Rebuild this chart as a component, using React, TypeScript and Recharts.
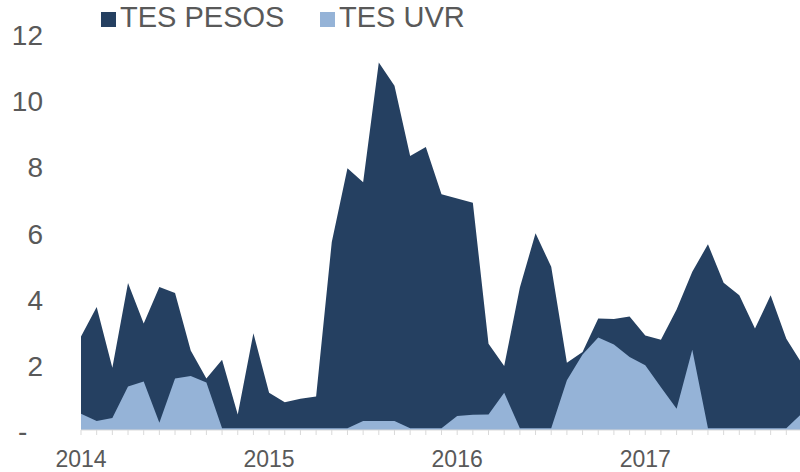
import { Area, AreaChart, Legend, XAxis, YAxis } from "recharts";

const months = [
  "2014-01", "2014-02", "2014-03", "2014-04", "2014-05", "2014-06", "2014-07", "2014-08", "2014-09", "2014-10", "2014-11", "2014-12",
  "2015-01", "2015-02", "2015-03", "2015-04", "2015-05", "2015-06", "2015-07", "2015-08", "2015-09", "2015-10", "2015-11", "2015-12",
  "2016-01", "2016-02", "2016-03", "2016-04", "2016-05", "2016-06", "2016-07", "2016-08", "2016-09", "2016-10", "2016-11", "2016-12",
  "2017-01", "2017-02", "2017-03", "2017-04", "2017-05", "2017-06", "2017-07", "2017-08", "2017-09", "2017-10", "2017-11",
];

const tesPesos = [
  2.82, 3.71, 1.88, 4.43, 3.21, 4.31, 4.13, 2.4, 1.55, 2.12, 0.47, 2.92,
  1.12, 0.84, 0.94, 1.01, 5.67, 7.89, 7.47, 11.08, 10.38, 8.26, 8.53, 7.11,
  6.98, 6.85, 2.6, 1.93, 4.3, 5.93, 4.92, 2.03, 2.35, 3.36, 3.35, 3.42,
  2.85, 2.72, 3.63, 4.77, 5.6, 4.44, 4.06, 3.06, 4.06, 2.75, 2.0,
];

const tesUvr = [
  0.49, 0.27, 0.36, 1.31, 1.46, 0.22, 1.55, 1.63, 1.43, 0.05, 0.05, 0.05,
  0.05, 0.05, 0.05, 0.05, 0.05, 0.05, 0.27, 0.27, 0.27, 0.05, 0.05, 0.05,
  0.42, 0.46, 0.47, 1.12, 0.05, 0.05, 0.05, 1.5, 2.28, 2.79, 2.58, 2.2,
  1.95, 1.29, 0.64, 2.42, 0.05, 0.05, 0.05, 0.05, 0.05, 0.05, 0.5,
];

const yTicks = [0, 2, 4, 6, 8, 10, 12];

const DARK = "#254061";
const LIGHT = "#95B3D7";
const GREY = "#595959";
const FONT = '"Liberation Sans", Arial, sans-serif';

const data = months.map((m, i) => ({ month: m, pesos: tesPesos[i], uvr: tesUvr[i] }));

function YTick({ y, payload }: any) {
  if (payload.value === 0) {
    return (
      <text x={18} y={y + 11} fill={GREY} fontSize={28} fontFamily={FONT}>
        -
      </text>
    );
  }
  return (
    <text x={43} y={y + 12.5} textAnchor="end" fill={GREY} fontSize={28} fontFamily={FONT}>
      {payload.value}
    </text>
  );
}

function XTick({ x, y, payload }: any) {
  const [yr, mo] = String(payload.value).split("-");
  if (mo !== "01") return <g />;
  return (
    <text x={x} y={y + 30} textAnchor="middle" fill={GREY} fontSize={23} fontFamily={FONT}>
      {yr}
    </text>
  );
}

// legend sits above the plot, one entry per series
const legendX = [101, 320];

function TopLegend({ payload }: any) {
  const items = [...(payload ?? [])].sort((a: any) => (a.dataKey === "pesos" ? -1 : 1));
  return (
    <svg width={500} height={34} style={{ display: "block" }}>
      {items.map((it: any, i: number) => (
        <g key={it.dataKey}>
          <rect x={legendX[i]} y={12} width={15} height={15} fill={it.color} />
          <text x={legendX[i] + 19} y={27} fill={GREY} fontSize={29} fontFamily={FONT}>
            {it.value}
          </text>
        </g>
      ))}
    </svg>
  );
}

export default function App() {
  return (
    <div style={{ position: "absolute", left: 0, top: 0, width: 800, height: 472, overflow: "hidden", background: "#fff" }}>
      <style>{`body{margin:0}`}</style>
      <AreaChart width={802} height={472} data={data} margin={{ top: 32, right: 0, bottom: 0, left: 0 }}>
        <XAxis
          dataKey="month"
          interval={0}
          height={42}
          tickSize={5}
          tickLine={{ stroke: "#D9D9D9" }}
          axisLine={{ stroke: "#D9D9D9" }}
          tick={<XTick />}
        />
        <YAxis
          domain={[0, 12]}
          ticks={yTicks}
          width={81}
          axisLine={false}
          tickLine={false}
          tick={<YTick />}
        />
        <Legend
          layout="horizontal"
          verticalAlign="middle"
          align="center"
          wrapperStyle={{ top: 0, left: 0, width: 500, height: 34 }}
          content={<TopLegend />}
        />
        <Area
          type="linear"
          dataKey="pesos"
          name="TES PESOS"
          stroke="none"
          fill={DARK}
          fillOpacity={1}
          isAnimationActive={false}
        />
        <Area
          type="linear"
          dataKey="uvr"
          name="TES UVR"
          stroke="none"
          fill={LIGHT}
          fillOpacity={1}
          isAnimationActive={false}
        />
      </AreaChart>
    </div>
  );
}
